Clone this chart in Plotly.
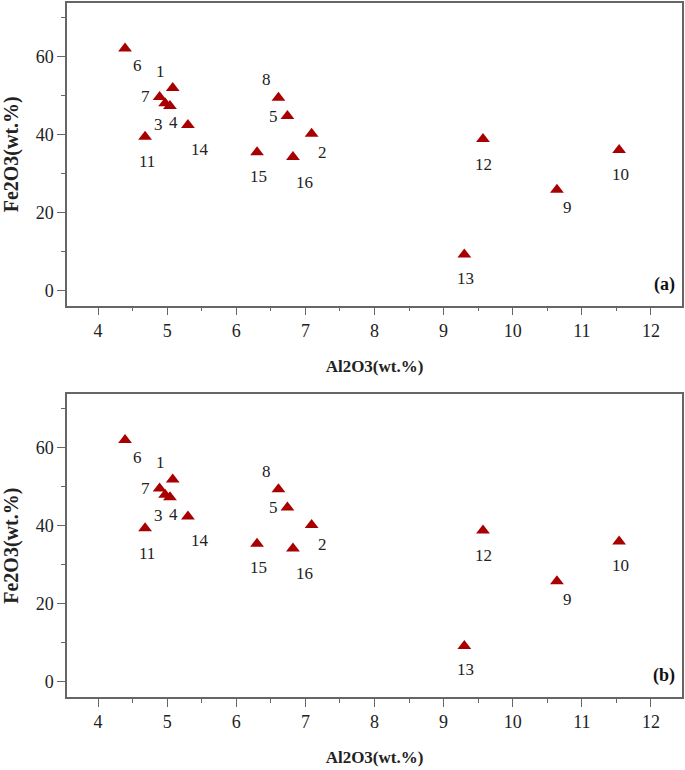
import plotly.graph_objects as go
from plotly.subplots import make_subplots

sample_ids = ["1", "2", "3", "4", "5", "6", "7", "8", "9", "10", "11", "12", "13", "14", "15", "16"]
al2o3 = [5.08, 7.09, 4.97, 5.04, 6.74, 4.39, 4.89, 6.61, 10.64, 11.54, 4.68, 9.57, 9.30, 5.30, 6.30, 6.82]
fe2o3 = [51.9, 40.2, 48.0, 47.3, 44.7, 62.0, 49.6, 49.4, 25.8, 36.0, 39.4, 38.8, 9.2, 42.4, 35.4, 34.2]
# label offsets in pixels (dx, dy screen-down)
label_dx = [-12, 11, -7, 4, -14, 12, -14, -12, 11, 1, 2, 1, 1, 12, 1, 12]
label_dy = [-17, 19, 21, 17, 0, 17, 0, -18, 18, 24, 25, 25, 24, 24, 24, 25]
panel_tags = ["(a)", "(b)"]

FONT = "Liberation Serif"
RED = "#a80000"
AXC = "#666666"
TXT = "#222222"

fig = make_subplots(rows=2, cols=1, vertical_spacing=0.128)
fig.update_layout(
    width=685, height=770,
    margin=dict(l=67, r=2, t=1, b=73),
    paper_bgcolor="white", plot_bgcolor="white",
    showlegend=False,
    font=dict(family=FONT, size=16, color=TXT),
)

for r in (1, 2):
    fig.add_trace(go.Scatter(
        x=al2o3, y=fe2o3, mode="markers",
        marker=dict(symbol="triangle-up", size=12, color=RED, line=dict(width=0)),
        hoverinfo="skip"), row=r, col=1)
    xref = "x" if r == 1 else "x2"
    yref = "y" if r == 1 else "y2"
    for sid, x, y, dx, dy in zip(sample_ids, al2o3, fe2o3, label_dx, label_dy):
        fig.add_annotation(x=x, y=y, xref=xref, yref=yref, text=sid, showarrow=False,
                           xshift=dx, yshift=-dy, font=dict(family=FONT, size=17, color=TXT))
    fig.add_annotation(x=12.38, y=1.5, xref=xref, yref=yref, text="<b>" + panel_tags[r - 1] + "</b>",
                       showarrow=False, xanchor="right",
                       font=dict(family=FONT, size=18, color="#111111"))
    fig.update_xaxes(
        row=r, col=1, range=[3.55, 12.45], dtick=1, tick0=0,
        showgrid=False, zeroline=False, showline=True, mirror=True,
        linecolor=AXC, linewidth=1.5, ticks="outside", ticklen=8, tickwidth=1.2, tickcolor=AXC,
        minor=dict(dtick=0.5, tick0=0, ticks="outside", ticklen=4, tickcolor=AXC, tickwidth=1.2, showgrid=False),
        tickfont=dict(family=FONT, size=18, color=TXT),
        title=dict(text="<b>Al2O3(wt.%)</b>", standoff=20,
                   font=dict(family=FONT, size=17, color=TXT)),
    )
    fig.update_yaxes(
        row=r, col=1, range=[-3.9, 73.7], dtick=20, tick0=0,
        showgrid=False, zeroline=False, showline=True, mirror=True,
        linecolor=AXC, linewidth=1.5, ticks="outside", ticklen=8, tickwidth=1.2, tickcolor=AXC,
        minor=dict(dtick=10, tick0=0, ticks="outside", ticklen=4, tickcolor=AXC, tickwidth=1.2, showgrid=False),
        tickfont=dict(family=FONT, size=18, color=TXT),
        title=dict(text="<b>Fe2O3(wt.%)</b>", standoff=12,
                   font=dict(family=FONT, size=20, color=TXT)),
    )

fig.write_html("out.html", config={"displayModeBar": False},
               post_script="document.body.style.margin='0';")
